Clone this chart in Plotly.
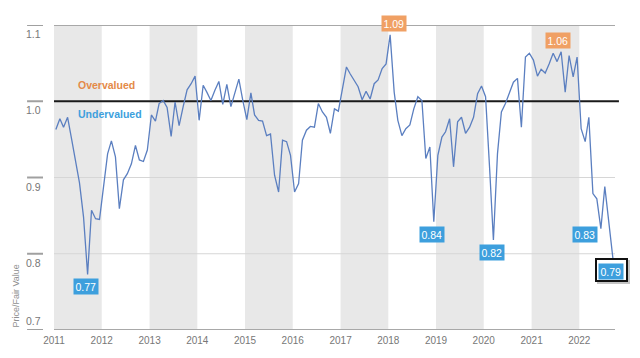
import plotly.graph_objects as go

# Monthly Price/Fair Value, Jan 2011 .. Sep 2022
values = [
    0.963, 0.977, 0.966, 0.979, 0.951, 0.923, 0.893, 0.848, 0.773, 0.857, 0.846, 0.845,   # 2011
    0.888, 0.931, 0.948, 0.927, 0.859, 0.897, 0.905, 0.918, 0.942, 0.923, 0.921, 0.936,   # 2012
    0.982, 0.974, 0.997, 1.001, 0.992, 0.954, 0.999, 0.968, 0.993, 1.015, 1.023, 1.033,   # 2013
    0.975, 1.021, 1.012, 1.001, 1.014, 1.026, 0.996, 1.022, 0.993, 1.012, 1.029, 1.001,   # 2014
    0.976, 1.011, 0.982, 0.975, 0.974, 0.955, 0.957, 0.903, 0.881, 0.949, 0.947, 0.929,   # 2015
    0.881, 0.892, 0.949, 0.962, 0.967, 0.966, 0.997, 0.986, 0.979, 0.958, 0.990, 0.987,   # 2016
    1.019, 1.045, 1.036, 1.028, 1.019, 1.002, 1.013, 1.003, 1.023, 1.028, 1.043, 1.049,   # 2017
    1.087, 1.012, 0.975, 0.955, 0.964, 0.969, 0.990, 1.006, 1.001, 0.925, 0.940, 0.842,   # 2018
    0.929, 0.953, 0.960, 0.977, 0.914, 0.973, 0.979, 0.958, 0.966, 0.979, 1.010, 1.020,   # 2019
    1.006, 0.912, 0.818, 0.931, 0.986, 0.997, 1.010, 1.025, 1.030, 0.966, 1.058, 1.063,   # 2020
    1.054, 1.033, 1.042, 1.037, 1.049, 1.063, 1.052, 1.065, 1.012, 1.060, 1.032, 1.058,   # 2021
    0.964, 0.947, 0.979, 0.879, 0.872, 0.833, 0.888, 0.844, 0.794,                        # 2022
]
dates = [f"{2011 + i // 12}-{i % 12 + 1:02d}-15" for i in range(len(values))]

years = list(range(2011, 2023))
year_ticks = [f"{y}-01-01" for y in years]
year_labels = [str(y) for y in years]
shaded_years = [2011, 2013, 2015, 2017, 2019, 2021]

y_ticks = [0.7, 0.8, 0.9, 1.0, 1.1]
y_labels = ["0.7", "0.8", "0.9", "1.0", "1.1"]

# callouts: (index, text, kind)
callouts = [
    (8, "0.77", "low"), (84, "1.09", "high"), (95, "0.84", "low"),
    (110, "0.82", "low"), (127, "1.06", "high"), (137, "0.83", "left"),
    (140, "0.79", "last"),
]

LINE = "#5b7fc0"
BLUE = "#3d9fdd"
ORANGE = "#f0a064"
FONT = "Liberation Sans Narrow, Arial Narrow, Liberation Sans, Arial, sans-serif"

fig = go.Figure()
fig.add_trace(go.Scatter(x=dates, y=values, mode="lines",
                         line=dict(color=LINE, width=1.3), hoverinfo="skip"))

shapes = []
for y in shaded_years:
    shapes.append(dict(type="rect", xref="x", yref="paper", x0=f"{y}-01-01", x1=f"{y + 1}-01-01",
                       y0=0, y1=1, fillcolor="#e8e8e8", line=dict(width=0), layer="below"))
for t in y_ticks:
    if t == 1.0:
        st = dict(color="#1a1a1a", width=2)
        x1 = 1.007
    elif t in (0.7, 1.1):
        st = dict(color="#a8a8a8", width=2)
        x1 = 1
    else:
        st = dict(color="#d6d6d6", width=1)
        x1 = 1
    shapes.append(dict(type="line", xref="paper", yref="y", x0=0, x1=x1, y0=t, y1=t,
                       line=st, layer="below"))
    shapes.append(dict(type="line", xref="paper", yref="y", x0=-0.048, x1=-0.0196, y0=t, y1=t,
                       line=dict(color="#a0a0a0", width=2)))

annotations = []
for t, lab in zip(y_ticks, y_labels):
    annotations.append(dict(x=-0.0196, xref="paper", y=t, yref="y", text=lab, showarrow=False,
                            xanchor="right", yanchor="middle", yshift=(9 if t == 0.7 else -9),
                            font=dict(family=FONT, size=10.5, color="#777777")))
annotations.append(dict(x=-0.0695, xref="paper", y=0.7, yref="y", text="Price/Fair Value",
                        textangle=-90, showarrow=False, xanchor="center", yanchor="bottom",
                        font=dict(family=FONT, size=9, color="#909090")))
annotations.append(dict(x=0.0392, xref="paper", y=1.0, yref="y", text="<b>Overvalued</b>",
                        showarrow=False, xanchor="left", yanchor="middle", yshift=16,
                        font=dict(family=FONT, size=10.5, color="#e48a48")))
annotations.append(dict(x=0.0392, xref="paper", y=1.0, yref="y", text="<b>Undervalued</b>",
                        showarrow=False, xanchor="left", yanchor="middle", yshift=-13,
                        font=dict(family=FONT, size=10.5, color="#3d9fdd")))

for idx, txt, kind in callouts:
    base = dict(x=dates[idx], y=values[idx], xref="x", yref="y", text=txt, showarrow=False,
                font=dict(family=FONT, size=10.5, color="white"), borderpad=1.5)
    if kind == "low":
        base.update(bgcolor=BLUE, xanchor="center", yanchor="top", yshift=-4, xshift=-1.5)
    elif kind == "high":
        base.update(bgcolor=ORANGE, xanchor="center", yanchor="bottom", yshift=3,
                    xshift=(3.5 if idx == 84 else -3))
    elif kind == "left":
        base.update(bgcolor=BLUE, xanchor="right", yanchor="middle", yshift=-6, xshift=-3)
    else:
        # drop shadow and black frame around the latest value (empty boxes)
        annotations.append(dict(x=dates[idx], y=values[idx], xref="x", yref="y", text=" ",
                                showarrow=False, width=27, height=18, borderpad=1,
                                bgcolor="#c4c4c4", bordercolor="#c4c4c4", borderwidth=2,
                                xanchor="center", yanchor="top", xshift=0.5, yshift=-2))
        annotations.append(dict(x=dates[idx], y=values[idx], xref="x", yref="y", text=" ",
                                showarrow=False, width=27, height=18, borderpad=1,
                                bgcolor="white", bordercolor="#111111", borderwidth=2,
                                xanchor="center", yanchor="top", xshift=-1.5, yshift=0))
        base.update(bgcolor=BLUE, xanchor="center", yanchor="top", yshift=-5, xshift=-1.8)
    annotations.append(base)

# the page body has an 8px margin, so the figure is sized to fit the 640x358 window
fig.update_layout(
    width=632, height=350,
    margin=dict(l=46, r=25, t=17, b=28),
    paper_bgcolor="white", plot_bgcolor="white",
    showlegend=False,
    shapes=shapes, annotations=annotations,
    xaxis=dict(range=["2011-01-01", "2022-10-01"], tickvals=year_ticks, ticktext=year_labels,
               showgrid=False, zeroline=False, showline=False, ticks="",
               ticklabelstandoff=3,
               tickfont=dict(family=FONT, size=10, color="#777777")),
    yaxis=dict(range=[0.7, 1.1], tickvals=y_ticks, showticklabels=False, showgrid=False,
               zeroline=False, showline=False, ticks=""),
)

fig.write_html("out.html")
